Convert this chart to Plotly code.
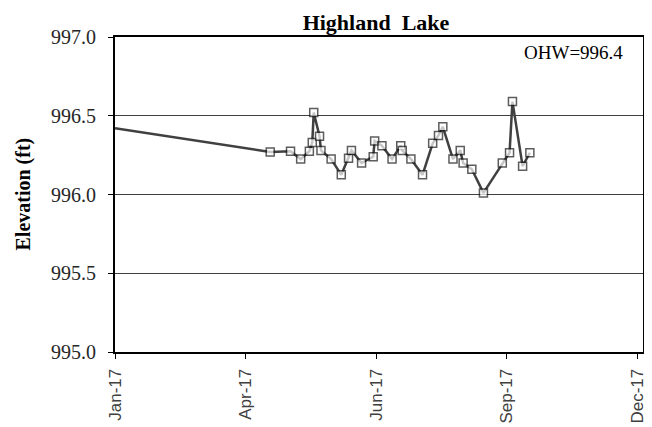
import plotly.graph_objects as go

# ---- data ----
dates = [
    "2017-01-01", "2017-04-18", "2017-05-02", "2017-05-09", "2017-05-15", "2017-05-17",
    "2017-05-18", "2017-05-22", "2017-05-23", "2017-05-30", "2017-06-06", "2017-06-11",
    "2017-06-13", "2017-06-20", "2017-06-28", "2017-06-29", "2017-07-04", "2017-07-11",
    "2017-07-17", "2017-07-18", "2017-07-24", "2017-08-01", "2017-08-08", "2017-08-12",
    "2017-08-15", "2017-08-22", "2017-08-27", "2017-08-29", "2017-09-04", "2017-09-12",
    "2017-09-25", "2017-09-30", "2017-10-02", "2017-10-09", "2017-10-14",
]
elevation = [
    996.42, 996.27, 996.275, 996.225, 996.275, 996.33,
    996.52, 996.37, 996.28, 996.225, 996.125, 996.23,
    996.28, 996.20, 996.24, 996.34, 996.31, 996.225,
    996.31, 996.28, 996.225, 996.125, 996.325, 996.375,
    996.43, 996.225, 996.28, 996.20, 996.16, 996.01,
    996.20, 996.265, 996.59, 996.18, 996.265,
]
# first point is the carry-over level from the start of the year (no marker shown)
marker_sizes = [0] + [8] * (len(dates) - 1)

x_tick_dates = ["2017-01-01", "2017-04-01", "2017-06-30", "2017-09-28", "2017-12-27"]
x_tick_labels = ["Jan-17", "Apr-17", "Jun-17", "Sep-17", "Dec-17"]
y_ticks = [995.0, 995.5, 996.0, 996.5, 997.0]
title_text = "Highland  Lake"
y_title_text = "Elevation (ft)"
ohw_text = "OHW=996.4"

fig = go.Figure()
fig.add_trace(go.Scatter(
    x=dates, y=elevation, mode="lines+markers",
    line=dict(color="#404040", width=2.5),
    marker=dict(symbol="square", size=marker_sizes, color="white",
                line=dict(color="#1a1a1a", width=1.5)),
    showlegend=False,
))

serif = "Liberation Serif"
# page has an 8px body margin: figure coords = page coords - 8
OFF = 8
W, H = 652 - OFF, 427 - OFF
L, R, T, B = 107, 9, 29, 75
PW = W - L - R
PH = H - T - B
fig.update_layout(
    width=W, height=H,
    margin=dict(l=L, r=R, t=T, b=B, autoexpand=False),
    paper_bgcolor="white", plot_bgcolor="white",
    title=dict(text="<b>" + title_text + "</b>", x=(376 - OFF) / W, xanchor="center",
               y=1 - (22 - OFF) / H, yanchor="middle",
               font=dict(family=serif, size=22, color="black")),
    xaxis=dict(
        range=["2017-01-01", "2017-12-31"],
        tickmode="array", tickvals=x_tick_dates, ticktext=x_tick_labels,
        tickangle=-90, tickfont=dict(family="Liberation Sans", size=17, color="#404040"),
        ticks="outside", ticklen=5, tickcolor="black", tickwidth=1,
        showgrid=False, showline=True, linecolor="black", linewidth=2, mirror=True,
        zeroline=False, ticklabelstandoff=3, automargin=False,
    ),
    yaxis=dict(
        range=[995.0, 997.0],
        tickmode="array", tickvals=y_ticks, tickformat=".1f",
        tickfont=dict(family=serif, size=20, color="#262626"),
        ticks="outside", ticklen=5, tickcolor="black", tickwidth=1,
        showgrid=True, gridcolor="#404040", gridwidth=1.2,
        showline=True, linecolor="black", linewidth=2, mirror=True,
        zeroline=False, ticklabelstandoff=8, automargin=False,
    ),
    annotations=[
        dict(text=ohw_text, xref="paper", yref="paper",
             x=(625 - OFF - L) / PW, y=1 - (52 - OFF - T) / PH,
             xanchor="right", yanchor="middle", showarrow=False,
             font=dict(family=serif, size=19, color="black")),
        dict(text="<b>" + y_title_text + "</b>", xref="paper", yref="paper",
             x=-(L - (23 - OFF)) / PW, y=0.5, textangle=-90,
             xanchor="center", yanchor="middle", showarrow=False,
             font=dict(family=serif, size=20, color="black")),
    ],
)

fig.write_html("out.html")
